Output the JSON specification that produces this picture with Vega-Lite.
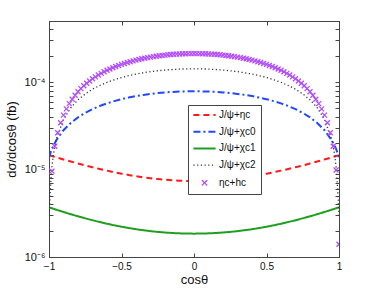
{
  "$schema": "https://vega.github.io/schema/vega-lite/v6.json",
  "width": 290,
  "height": 236,
  "autosize": {"type": "none"},
  "padding": {"left": 49, "top": 21, "right": 35, "bottom": 33},
  "background": "white",
  "config": {
    "view": {"stroke": "#444", "strokeWidth": 1},
    "axis": {"grid": false, "domainColor": "#444", "tickColor": "#444", "labelColor": "#111", "titleColor": "#111", "labelFont": "Liberation Sans", "titleFont": "Liberation Sans", "labelFontSize": 10, "titleFontSize": 13, "titleFontWeight": "normal", "tickSize": -4, "labelPadding": 8, "labelFlush": false, "labelOverlap": false}
  },
  "datasets": {
    "lines": [
      {"cos": -1, "J/ψ+ηc": 1.46e-5, "J/ψ+χc0": 1.36e-5, "J/ψ+χc1": 3.7e-6, "J/ψ+χc2": 3.0e-6},
      {"cos": -0.99, "J/ψ+ηc": 1.443e-5, "J/ψ+χc0": 1.55e-5, "J/ψ+χc1": 3.653e-6, "J/ψ+χc2": 6.2e-6},
      {"cos": -0.98, "J/ψ+ηc": 1.427e-5, "J/ψ+χc0": 1.72e-5, "J/ψ+χc1": 3.608e-6, "J/ψ+χc2": 1.07e-5},
      {"cos": -0.97, "J/ψ+ηc": 1.411e-5, "J/ψ+χc0": 1.87e-5, "J/ψ+χc1": 3.563e-6, "J/ψ+χc2": 1.48e-5},
      {"cos": -0.95, "J/ψ+ηc": 1.379e-5, "J/ψ+χc0": 2.16e-5, "J/ψ+χc1": 3.476e-6, "J/ψ+χc2": 2.21e-5},
      {"cos": -0.9, "J/ψ+ηc": 1.305e-5, "J/ψ+χc0": 2.82e-5, "J/ψ+χc1": 3.272e-6, "J/ψ+χc2": 3.76e-5},
      {"cos": -0.85, "J/ψ+ηc": 1.236e-5, "J/ψ+χc0": 3.41e-5, "J/ψ+χc1": 3.086e-6, "J/ψ+χc2": 5.09e-5},
      {"cos": -0.8, "J/ψ+ηc": 1.173e-5, "J/ψ+χc0": 3.95e-5, "J/ψ+χc1": 2.919e-6, "J/ψ+χc2": 6.27e-5},
      {"cos": -0.75, "J/ψ+ηc": 1.115e-5, "J/ψ+χc0": 4.45e-5, "J/ψ+χc1": 2.768e-6, "J/ψ+χc2": 7.33e-5},
      {"cos": -0.7, "J/ψ+ηc": 1.063e-5, "J/ψ+χc0": 4.91e-5, "J/ψ+χc1": 2.632e-6, "J/ψ+χc2": 8.29e-5},
      {"cos": -0.65, "J/ψ+ηc": 1.015e-5, "J/ψ+χc0": 5.33e-5, "J/ψ+χc1": 2.51e-6, "J/ψ+χc2": 9.15e-5},
      {"cos": -0.6, "J/ψ+ηc": 9.72e-6, "J/ψ+χc0": 5.71e-5, "J/ψ+χc1": 2.401e-6, "J/ψ+χc2": 9.94e-5},
      {"cos": -0.55, "J/ψ+ηc": 9.32e-6, "J/ψ+χc0": 6.06e-5, "J/ψ+χc1": 2.304e-6, "J/ψ+χc2": 1.064e-4},
      {"cos": -0.5, "J/ψ+ηc": 8.98e-6, "J/ψ+χc0": 6.38e-5, "J/ψ+χc1": 2.219e-6, "J/ψ+χc2": 1.128e-4},
      {"cos": -0.45, "J/ψ+ηc": 8.66e-6, "J/ψ+χc0": 6.66e-5, "J/ψ+χc1": 2.144e-6, "J/ψ+χc2": 1.185e-4},
      {"cos": -0.4, "J/ψ+ηc": 8.39e-6, "J/ψ+χc0": 6.92e-5, "J/ψ+χc1": 2.079e-6, "J/ψ+χc2": 1.235e-4},
      {"cos": -0.35, "J/ψ+ηc": 8.15e-6, "J/ψ+χc0": 7.14e-5, "J/ψ+χc1": 2.023e-6, "J/ψ+χc2": 1.279e-4},
      {"cos": -0.3, "J/ψ+ηc": 7.95e-6, "J/ψ+χc0": 7.33e-5, "J/ψ+χc1": 1.976e-6, "J/ψ+χc2": 1.317e-4},
      {"cos": -0.25, "J/ψ+ηc": 7.78e-6, "J/ψ+χc0": 7.49e-5, "J/ψ+χc1": 1.936e-6, "J/ψ+χc2": 1.349e-4},
      {"cos": -0.2, "J/ψ+ηc": 7.64e-6, "J/ψ+χc0": 7.625e-5, "J/ψ+χc1": 1.905e-6, "J/ψ+χc2": 1.374e-4},
      {"cos": -0.15, "J/ψ+ηc": 7.54e-6, "J/ψ+χc0": 7.73e-5, "J/ψ+χc1": 1.881e-6, "J/ψ+χc2": 1.394e-4},
      {"cos": -0.1, "J/ψ+ηc": 7.46e-6, "J/ψ+χc0": 7.8e-5, "J/ψ+χc1": 1.864e-6, "J/ψ+χc2": 1.409e-4},
      {"cos": -0.05, "J/ψ+ηc": 7.42e-6, "J/ψ+χc0": 7.845e-5, "J/ψ+χc1": 1.853e-6, "J/ψ+χc2": 1.417e-4},
      {"cos": 0, "J/ψ+ηc": 7.4e-6, "J/ψ+χc0": 7.86e-5, "J/ψ+χc1": 1.85e-6, "J/ψ+χc2": 1.42e-4},
      {"cos": 0.05, "J/ψ+ηc": 7.42e-6, "J/ψ+χc0": 7.845e-5, "J/ψ+χc1": 1.853e-6, "J/ψ+χc2": 1.417e-4},
      {"cos": 0.1, "J/ψ+ηc": 7.46e-6, "J/ψ+χc0": 7.8e-5, "J/ψ+χc1": 1.864e-6, "J/ψ+χc2": 1.409e-4},
      {"cos": 0.15, "J/ψ+ηc": 7.54e-6, "J/ψ+χc0": 7.73e-5, "J/ψ+χc1": 1.881e-6, "J/ψ+χc2": 1.394e-4},
      {"cos": 0.2, "J/ψ+ηc": 7.64e-6, "J/ψ+χc0": 7.625e-5, "J/ψ+χc1": 1.905e-6, "J/ψ+χc2": 1.374e-4},
      {"cos": 0.25, "J/ψ+ηc": 7.78e-6, "J/ψ+χc0": 7.49e-5, "J/ψ+χc1": 1.936e-6, "J/ψ+χc2": 1.349e-4},
      {"cos": 0.3, "J/ψ+ηc": 7.95e-6, "J/ψ+χc0": 7.33e-5, "J/ψ+χc1": 1.976e-6, "J/ψ+χc2": 1.317e-4},
      {"cos": 0.35, "J/ψ+ηc": 8.15e-6, "J/ψ+χc0": 7.14e-5, "J/ψ+χc1": 2.023e-6, "J/ψ+χc2": 1.279e-4},
      {"cos": 0.4, "J/ψ+ηc": 8.39e-6, "J/ψ+χc0": 6.92e-5, "J/ψ+χc1": 2.079e-6, "J/ψ+χc2": 1.235e-4},
      {"cos": 0.45, "J/ψ+ηc": 8.66e-6, "J/ψ+χc0": 6.66e-5, "J/ψ+χc1": 2.144e-6, "J/ψ+χc2": 1.185e-4},
      {"cos": 0.5, "J/ψ+ηc": 8.98e-6, "J/ψ+χc0": 6.38e-5, "J/ψ+χc1": 2.219e-6, "J/ψ+χc2": 1.128e-4},
      {"cos": 0.55, "J/ψ+ηc": 9.32e-6, "J/ψ+χc0": 6.06e-5, "J/ψ+χc1": 2.304e-6, "J/ψ+χc2": 1.064e-4},
      {"cos": 0.6, "J/ψ+ηc": 9.72e-6, "J/ψ+χc0": 5.71e-5, "J/ψ+χc1": 2.401e-6, "J/ψ+χc2": 9.94e-5},
      {"cos": 0.65, "J/ψ+ηc": 1.015e-5, "J/ψ+χc0": 5.33e-5, "J/ψ+χc1": 2.51e-6, "J/ψ+χc2": 9.15e-5},
      {"cos": 0.7, "J/ψ+ηc": 1.063e-5, "J/ψ+χc0": 4.91e-5, "J/ψ+χc1": 2.632e-6, "J/ψ+χc2": 8.29e-5},
      {"cos": 0.75, "J/ψ+ηc": 1.115e-5, "J/ψ+χc0": 4.45e-5, "J/ψ+χc1": 2.768e-6, "J/ψ+χc2": 7.33e-5},
      {"cos": 0.8, "J/ψ+ηc": 1.173e-5, "J/ψ+χc0": 3.95e-5, "J/ψ+χc1": 2.919e-6, "J/ψ+χc2": 6.27e-5},
      {"cos": 0.85, "J/ψ+ηc": 1.236e-5, "J/ψ+χc0": 3.41e-5, "J/ψ+χc1": 3.086e-6, "J/ψ+χc2": 5.09e-5},
      {"cos": 0.9, "J/ψ+ηc": 1.305e-5, "J/ψ+χc0": 2.82e-5, "J/ψ+χc1": 3.272e-6, "J/ψ+χc2": 3.76e-5},
      {"cos": 0.95, "J/ψ+ηc": 1.379e-5, "J/ψ+χc0": 2.16e-5, "J/ψ+χc1": 3.476e-6, "J/ψ+χc2": 2.21e-5},
      {"cos": 0.97, "J/ψ+ηc": 1.411e-5, "J/ψ+χc0": 1.87e-5, "J/ψ+χc1": 3.563e-6, "J/ψ+χc2": 1.48e-5},
      {"cos": 0.98, "J/ψ+ηc": 1.427e-5, "J/ψ+χc0": 1.72e-5, "J/ψ+χc1": 3.608e-6, "J/ψ+χc2": 1.07e-5},
      {"cos": 0.99, "J/ψ+ηc": 1.443e-5, "J/ψ+χc0": 1.55e-5, "J/ψ+χc1": 3.653e-6, "J/ψ+χc2": 6.2e-6},
      {"cos": 1, "J/ψ+ηc": 1.46e-5, "J/ψ+χc0": 1.36e-5, "J/ψ+χc1": 3.7e-6, "J/ψ+χc2": 3.0e-6}
    ],
    "pts": [
      {"cos": -0.98, "y": 9.6e-6}, {"cos": -0.96, "y": 1.85e-5}, {"cos": -0.94, "y": 2.64e-5}, {"cos": -0.92, "y": 3.43e-5},
      {"cos": -0.9, "y": 4.19e-5}, {"cos": -0.88, "y": 4.94e-5}, {"cos": -0.86, "y": 5.67e-5}, {"cos": -0.84, "y": 6.38e-5},
      {"cos": -0.82, "y": 7.08e-5}, {"cos": -0.8, "y": 7.76e-5}, {"cos": -0.78, "y": 8.42e-5}, {"cos": -0.76, "y": 9.07e-5},
      {"cos": -0.74, "y": 9.7e-5}, {"cos": -0.72, "y": 1.031e-4}, {"cos": -0.7, "y": 1.091e-4}, {"cos": -0.68, "y": 1.149e-4},
      {"cos": -0.66, "y": 1.205e-4}, {"cos": -0.64, "y": 1.26e-4}, {"cos": -0.62, "y": 1.313e-4}, {"cos": -0.6, "y": 1.364e-4},
      {"cos": -0.58, "y": 1.414e-4}, {"cos": -0.56, "y": 1.461e-4}, {"cos": -0.54, "y": 1.508e-4}, {"cos": -0.52, "y": 1.552e-4},
      {"cos": -0.5, "y": 1.595e-4}, {"cos": -0.48, "y": 1.636e-4}, {"cos": -0.46, "y": 1.676e-4}, {"cos": -0.44, "y": 1.713e-4},
      {"cos": -0.42, "y": 1.75e-4}, {"cos": -0.4, "y": 1.784e-4}, {"cos": -0.38, "y": 1.817e-4}, {"cos": -0.36, "y": 1.848e-4},
      {"cos": -0.34, "y": 1.877e-4}, {"cos": -0.32, "y": 1.905e-4}, {"cos": -0.3, "y": 1.931e-4}, {"cos": -0.28, "y": 1.955e-4},
      {"cos": -0.26, "y": 1.978e-4}, {"cos": -0.24, "y": 1.999e-4}, {"cos": -0.22, "y": 2.018e-4}, {"cos": -0.2, "y": 2.036e-4},
      {"cos": -0.18, "y": 2.052e-4}, {"cos": -0.16, "y": 2.066e-4}, {"cos": -0.14, "y": 2.079e-4}, {"cos": -0.12, "y": 2.09e-4},
      {"cos": -0.1, "y": 2.099e-4}, {"cos": -0.08, "y": 2.107e-4}, {"cos": -0.06, "y": 2.112e-4}, {"cos": -0.04, "y": 2.117e-4},
      {"cos": -0.02, "y": 2.119e-4}, {"cos": 0, "y": 2.12e-4},
      {"cos": 0.02, "y": 2.119e-4}, {"cos": 0.04, "y": 2.117e-4}, {"cos": 0.06, "y": 2.112e-4}, {"cos": 0.08, "y": 2.107e-4},
      {"cos": 0.1, "y": 2.099e-4}, {"cos": 0.12, "y": 2.09e-4}, {"cos": 0.14, "y": 2.079e-4}, {"cos": 0.16, "y": 2.066e-4},
      {"cos": 0.18, "y": 2.052e-4}, {"cos": 0.2, "y": 2.036e-4}, {"cos": 0.22, "y": 2.018e-4}, {"cos": 0.24, "y": 1.999e-4},
      {"cos": 0.26, "y": 1.978e-4}, {"cos": 0.28, "y": 1.955e-4}, {"cos": 0.3, "y": 1.931e-4}, {"cos": 0.32, "y": 1.905e-4},
      {"cos": 0.34, "y": 1.877e-4}, {"cos": 0.36, "y": 1.848e-4}, {"cos": 0.38, "y": 1.817e-4}, {"cos": 0.4, "y": 1.784e-4},
      {"cos": 0.42, "y": 1.75e-4}, {"cos": 0.44, "y": 1.713e-4}, {"cos": 0.46, "y": 1.676e-4}, {"cos": 0.48, "y": 1.636e-4},
      {"cos": 0.5, "y": 1.595e-4}, {"cos": 0.52, "y": 1.552e-4}, {"cos": 0.54, "y": 1.508e-4}, {"cos": 0.56, "y": 1.461e-4},
      {"cos": 0.58, "y": 1.414e-4}, {"cos": 0.6, "y": 1.364e-4}, {"cos": 0.62, "y": 1.313e-4}, {"cos": 0.64, "y": 1.26e-4},
      {"cos": 0.66, "y": 1.205e-4}, {"cos": 0.68, "y": 1.149e-4}, {"cos": 0.7, "y": 1.091e-4}, {"cos": 0.72, "y": 1.031e-4},
      {"cos": 0.74, "y": 9.7e-5}, {"cos": 0.76, "y": 9.07e-5}, {"cos": 0.78, "y": 8.42e-5}, {"cos": 0.8, "y": 7.76e-5},
      {"cos": 0.82, "y": 7.08e-5}, {"cos": 0.84, "y": 6.38e-5}, {"cos": 0.86, "y": 5.67e-5}, {"cos": 0.88, "y": 4.94e-5},
      {"cos": 0.9, "y": 4.19e-5}, {"cos": 0.92, "y": 3.43e-5}, {"cos": 0.94, "y": 2.64e-5}, {"cos": 0.96, "y": 1.85e-5},
      {"cos": 0.98, "y": 9.9e-6}, {"cos": 1, "y": 1.4e-6}
    ]
  },
  "layer": [
    {
      "data": {"name": "lines"},
      "transform": [{"fold": ["J/ψ+ηc", "J/ψ+χc0", "J/ψ+χc1"], "as": ["series", "val"]}],
      "mark": {"type": "line", "strokeWidth": 2, "clip": true},
      "encoding": {
        "x": {"field": "cos", "type": "quantitative", "scale": {"domain": [-1, 1], "nice": false},
              "axis": {"orient": "bottom", "title": "cosθ", "values": [-1, -0.5, 0, 0.5, 1], "format": "~g", "titlePadding": 2}},
        "y": {"field": "val", "type": "quantitative", "scale": {"type": "log", "domain": [1e-6, 5e-4], "nice": false},
              "axis": {"orient": "left", "title": "dσ/dcosθ (fb)", "titlePadding": 6, "labelFontSize": 11,
                       "values": [1e-6, 2e-6, 3e-6, 4e-6, 5e-6, 6e-6, 7e-6, 8e-6, 9e-6, 1e-5, 2e-5, 3e-5, 4e-5, 5e-5, 6e-5, 7e-5, 8e-5, 9e-5, 1e-4, 2e-4, 3e-4, 4e-4, 5e-4],
                       "labelExpr": "datum.value == 1e-6 ? '10⁻⁶' : datum.value == 1e-5 ? '10⁻⁵' : datum.value == 1e-4 ? '10⁻⁴' : ''"}},
        "color": {"field": "series", "type": "nominal",
                  "scale": {"domain": ["J/ψ+ηc", "J/ψ+χc0", "J/ψ+χc1", "J/ψ+χc2", "ηc+hc"], "range": ["#ff1a1a", "#2147ff", "#1f9e1f", "#333333", "#b24cff"]},
                  "legend": {"orient": "none", "legendX": 139, "legendY": 84, "title": null, "fillColor": "#ffffff", "strokeColor": "#444444",
                             "padding": 5, "labelFont": "Liberation Sans", "labelFontSize": 10, "labelColor": "#111111",
                             "symbolSize": 144, "symbolType": "M-1.85,0L1.85,0", "rowPadding": 6.7, "labelOffset": 9.5, "symbolOffset": 6.5, "symbolStrokeWidth": 2,
                             "encode": {"symbols": {"update": {
                               "shape": {"signal": "datum.value === 'ηc+hc' ? 'M-0.45,-0.45L0.45,0.45M0.45,-0.45L-0.45,0.45' : 'M-1.85,0L1.85,0'"},
                               "strokeDash": {"signal": "datum.value === 'J/ψ+ηc' ? [6,4] : datum.value === 'J/ψ+χc0' ? [7,3,2,3] : datum.value === 'J/ψ+χc2' ? [1.2,2.5] : [1,0]"},
                               "strokeWidth": {"signal": "datum.value === 'J/ψ+χc2' || datum.value === 'ηc+hc' ? 1.3 : 2"},
                               "stroke": {"scale": "color", "field": "value"},
                               "fill": {"value": "transparent"},
                               "opacity": {"value": 1}
                             }}}}},
        "strokeDash": {"field": "series", "type": "nominal",
                       "scale": {"domain": ["J/ψ+ηc", "J/ψ+χc0", "J/ψ+χc1"], "range": [[6, 4], [7, 3, 2, 3], [1, 0]]}, "legend": null}
      }
    },
    {
      "data": {"name": "lines"},
      "mark": {"type": "line", "strokeWidth": 1.3, "strokeDash": [1.2, 2.5], "clip": true},
      "encoding": {
        "x": {"field": "cos", "type": "quantitative", "axis": null},
        "y": {"field": "J/ψ+χc2", "type": "quantitative", "axis": null},
        "color": {"datum": "J/ψ+χc2", "type": "nominal"}
      }
    },
    {
      "data": {"name": "pts"},
      "mark": {"type": "point", "shape": "M-1,-1L1,1M1,-1L-1,1", "filled": false, "size": 25, "strokeWidth": 1.3, "opacity": 1, "clip": true},
      "encoding": {
        "x": {"field": "cos", "type": "quantitative", "axis": {"orient": "top", "labels": false, "title": null, "values": [-1, -0.5, 0, 0.5, 1]}},
        "y": {"field": "y", "type": "quantitative",
              "axis": {"orient": "right", "labels": false, "title": null,
                       "values": [1e-6, 2e-6, 3e-6, 4e-6, 5e-6, 6e-6, 7e-6, 8e-6, 9e-6, 1e-5, 2e-5, 3e-5, 4e-5, 5e-5, 6e-5, 7e-5, 8e-5, 9e-5, 1e-4, 2e-4, 3e-4, 4e-4, 5e-4]}},
        "color": {"datum": "ηc+hc", "type": "nominal"}
      }
    }
  ],
  "resolve": {"axis": {"x": "independent", "y": "independent"}}
}
